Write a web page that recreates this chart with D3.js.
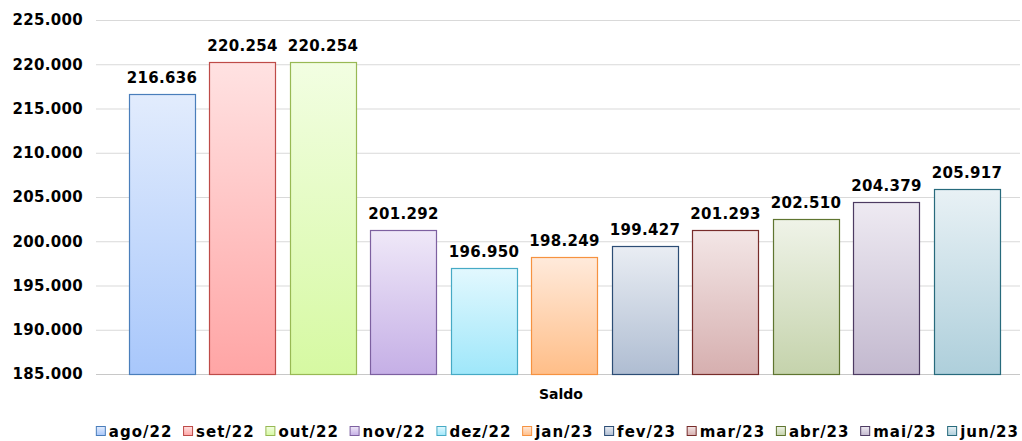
<!DOCTYPE html>
<html>
<head>
<meta charset="utf-8">
<script src="https://cdn.jsdelivr.net/npm/d3@7"></script>
<style>
  body { margin: 0; background: #fff; }
  text { font-family: "DejaVu Sans", Verdana, sans-serif; font-weight: bold; fill: #000; }
</style>
</head>
<body>
<div id="chart"></div>
<script>
var months = ["ago/22","set/22","out/22","nov/22","dez/22","jan/23","fev/23","mar/23","abr/23","mai/23","jun/23"];
var saldo = [216636, 220254, 220254, 201292, 196950, 198249, 199427, 201293, 202510, 204379, 205917];
var yTicks = [185000, 190000, 195000, 200000, 205000, 210000, 215000, 220000, 225000];
var topColors = ["#e2ecfd","#ffe2e2","#f2fee2","#efe8f8","#e2f8fe","#ffeadb","#e9edf3","#f3e6e6","#eff3e8","#eeeaf2","#e8f1f5"];
var bottomColors = ["#a8c7fb","#ffa5a5","#d6f9a2","#c5afe6","#9fe7fa","#ffbe88","#afbdd2","#d6afaf","#c5d3ac","#c3b9cf","#aecfdb"];
var strokeColors = ["#4a7ebb","#be4b48","#98b954","#7d60a0","#46aac5","#f69240","#2c4d75","#772c2a","#5f7530","#4d3b62","#276a7c"];

var width = 1022, height = 441;
var svg = d3.select("#chart").append("svg")
  .attr("width", width).attr("height", height);

var defs = svg.append("defs");
months.forEach(function(m, i){
  var g = defs.append("linearGradient").attr("id", "grad" + i)
    .attr("x1", 0).attr("y1", 0).attr("x2", 0).attr("y2", 1);
  g.append("stop").attr("offset", "0%").attr("stop-color", topColors[i]);
  g.append("stop").attr("offset", "100%").attr("stop-color", bottomColors[i]);
});

var x = d3.scaleBand().domain(months).range([121.75, 1007.25])
  .paddingInner(0.18).paddingOuter(0.09);
var y = d3.scaleLinear().domain([185000, 225000]).range([374, 20]);

// brazilian style: thousands with a dot
var fmt = function(v){ return d3.format(",.0f")(v).replace(/,/g, "."); };

// gridlines
svg.append("g").selectAll("line").data(yTicks).enter().append("line")
  .attr("x1", 96).attr("x2", 1020)
  .attr("y1", function(d){ return y(d) + 0.5; })
  .attr("y2", function(d){ return y(d) + 0.5; })
  .attr("stroke", function(d){ return d === 185000 ? "#c8c8c8" : "#d9d9d9"; })
  .attr("stroke-width", 1);

svg.append("g").selectAll("text").data(yTicks).enter().append("text")
  .attr("x", 83).attr("y", function(d){ return y(d); })
  .attr("dy", "0.36em").attr("text-anchor", "end")
  .attr("font-size", "15px").attr("letter-spacing", "0.3px")
  .text(function(d){ return fmt(d); });

// bars
svg.append("g").selectAll("rect").data(saldo).enter().append("rect")
  .attr("x", function(d, i){ return Math.round(x(months[i])) + 0.5; })
  .attr("y", function(d){ return Math.round(y(d)) + 0.5; })
  .attr("width", Math.round(x.bandwidth()))
  .attr("height", function(d){ return Math.round(y(185000)) - Math.round(y(d)); })
  .attr("fill", function(d, i){ return "url(#grad" + i + ")"; })
  .attr("stroke", function(d, i){ return strokeColors[i]; })
  .attr("stroke-width", 1.2);

svg.append("g").selectAll("text").data(saldo).enter().append("text")
  .attr("x", function(d, i){ return x(months[i]) + x.bandwidth() / 2; })
  .attr("y", function(d){ return y(d) - 11; })
  .attr("text-anchor", "middle").attr("font-size", "15px").attr("letter-spacing", "0.3px")
  .text(function(d){ return fmt(d); });

svg.append("text").attr("x", 561).attr("y", 399)
  .attr("text-anchor", "middle").attr("font-size", "14px").text("Saldo");

// legend
var legend = svg.append("g");
var cx = 0, gap = 10.7;
months.forEach(function(m, i){
  var item = legend.append("g").attr("transform", "translate(" + cx + ",0)");
  item.append("rect").attr("x", 0.5).attr("y", -10.5).attr("width", 9).attr("height", 9)
    .attr("fill", "url(#grad" + i + ")").attr("stroke", strokeColors[i]);
  var t = item.append("text").attr("x", 13).attr("y", 0).attr("font-size", "15px")
    .attr("letter-spacing", "1px").text(m);
  cx += 13 + t.node().getComputedTextLength() + gap;
});
var legW = cx - gap;
legend.attr("transform", "translate(" + (1019 - legW) + ",437)");
</script>
</body>
</html>
